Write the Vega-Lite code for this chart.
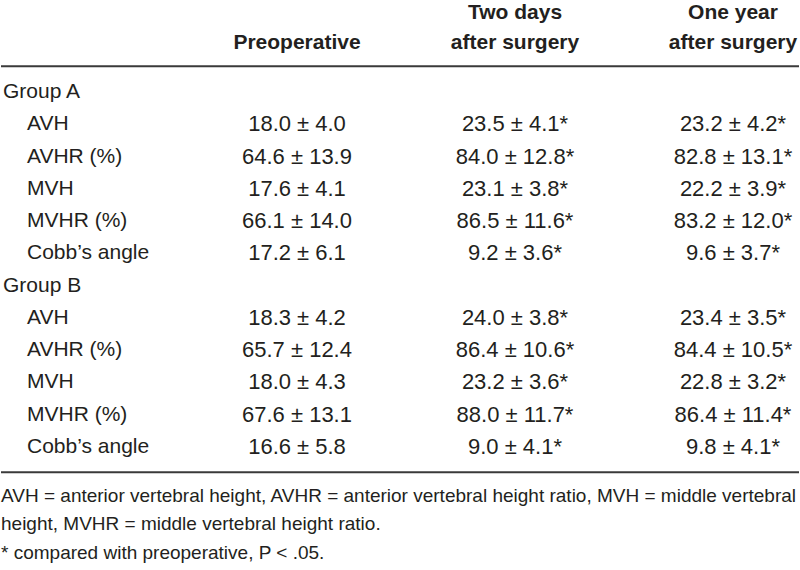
{
  "$schema": "https://vega.github.io/schema/vega-lite/v6.json",
  "width": 800,
  "height": 570,
  "autosize": {"type": "fit", "contains": "padding"},
  "padding": 0,
  "background": "white",
  "config": {"view": {"stroke": null}, "text": {"font": "Liberation Sans, Arial, Helvetica, sans-serif", "color": "#231f20"}},
  "datasets": {
    "rules": [{"line": 0.2}, {"line": 12.78}],
    "table": [
      {"role": "head", "line": -0.52, "col": 1, "text": "Preoperative"},
      {"role": "head", "line": -1.45, "col": 2, "text": "Two days"},
      {"role": "head", "line": -0.52, "col": 2, "text": "after surgery"},
      {"role": "head", "line": -1.45, "col": 3, "text": "One year"},
      {"role": "head", "line": -0.52, "col": 3, "text": "after surgery"},
      {"role": "group", "line": 1, "col": 0, "text": "Group A"},
      {"role": "item", "line": 2, "col": 0, "text": "AVH"},
      {"role": "item", "line": 3, "col": 0, "text": "AVHR (%)"},
      {"role": "item", "line": 4, "col": 0, "text": "MVH"},
      {"role": "item", "line": 5, "col": 0, "text": "MVHR (%)"},
      {"role": "item", "line": 6, "col": 0, "text": "Cobb’s angle"},
      {"role": "group", "line": 7, "col": 0, "text": "Group B"},
      {"role": "item", "line": 8, "col": 0, "text": "AVH"},
      {"role": "item", "line": 9, "col": 0, "text": "AVHR (%)"},
      {"role": "item", "line": 10, "col": 0, "text": "MVH"},
      {"role": "item", "line": 11, "col": 0, "text": "MVHR (%)"},
      {"role": "item", "line": 12, "col": 0, "text": "Cobb’s angle"},
      {"role": "value", "line": 2, "col": 1, "text": "18.0 ± 4.0"},
      {"role": "value", "line": 2, "col": 2, "text": "23.5 ± 4.1*"},
      {"role": "value", "line": 2, "col": 3, "text": "23.2 ± 4.2*"},
      {"role": "value", "line": 3, "col": 1, "text": "64.6 ± 13.9"},
      {"role": "value", "line": 3, "col": 2, "text": "84.0 ± 12.8*"},
      {"role": "value", "line": 3, "col": 3, "text": "82.8 ± 13.1*"},
      {"role": "value", "line": 4, "col": 1, "text": "17.6 ± 4.1"},
      {"role": "value", "line": 4, "col": 2, "text": "23.1 ± 3.8*"},
      {"role": "value", "line": 4, "col": 3, "text": "22.2 ± 3.9*"},
      {"role": "value", "line": 5, "col": 1, "text": "66.1 ± 14.0"},
      {"role": "value", "line": 5, "col": 2, "text": "86.5 ± 11.6*"},
      {"role": "value", "line": 5, "col": 3, "text": "83.2 ± 12.0*"},
      {"role": "value", "line": 6, "col": 1, "text": "17.2 ± 6.1"},
      {"role": "value", "line": 6, "col": 2, "text": "9.2 ± 3.6*"},
      {"role": "value", "line": 6, "col": 3, "text": "9.6 ± 3.7*"},
      {"role": "value", "line": 8, "col": 1, "text": "18.3 ± 4.2"},
      {"role": "value", "line": 8, "col": 2, "text": "24.0 ± 3.8*"},
      {"role": "value", "line": 8, "col": 3, "text": "23.4 ± 3.5*"},
      {"role": "value", "line": 9, "col": 1, "text": "65.7 ± 12.4"},
      {"role": "value", "line": 9, "col": 2, "text": "86.4 ± 10.6*"},
      {"role": "value", "line": 9, "col": 3, "text": "84.4 ± 10.5*"},
      {"role": "value", "line": 10, "col": 1, "text": "18.0 ± 4.3"},
      {"role": "value", "line": 10, "col": 2, "text": "23.2 ± 3.6*"},
      {"role": "value", "line": 10, "col": 3, "text": "22.8 ± 3.2*"},
      {"role": "value", "line": 11, "col": 1, "text": "67.6 ± 13.1"},
      {"role": "value", "line": 11, "col": 2, "text": "88.0 ± 11.7*"},
      {"role": "value", "line": 11, "col": 3, "text": "86.4 ± 11.4*"},
      {"role": "value", "line": 12, "col": 1, "text": "16.6 ± 5.8"},
      {"role": "value", "line": 12, "col": 2, "text": "9.0 ± 4.1*"},
      {"role": "value", "line": 12, "col": 3, "text": "9.8 ± 4.1*"},
      {"role": "foot", "line": 13.52, "col": 0, "text": "AVH = anterior vertebral height, AVHR = anterior vertebral height ratio, MVH = middle vertebral"},
      {"role": "foot", "line": 14.39, "col": 0, "text": "height, MVHR = middle vertebral height ratio."},
      {"role": "foot", "line": 15.29, "col": 0, "text": "* compared with preoperative, P < .05."}
    ]
  },
  "layer": [
    {
      "data": {"name": "rules"},
      "mark": {"type": "rule", "strokeWidth": 2, "color": "#3a3a3a"},
      "encoding": {
        "y": {"field": "line", "type": "quantitative", "axis": null, "scale": {"domain": [1, 12], "range": [92, 447], "nice": false, "zero": false}}
      }
    },
    {
      "data": {"name": "table"},
      "transform": [{"filter": "datum.role === 'head'"}],
      "mark": {"type": "text", "fontWeight": "bold", "fontSize": 21, "align": "center", "baseline": "middle"},
      "encoding": {
        "x": {"field": "col", "type": "quantitative", "axis": null, "scale": {"domain": [0, 3], "range": [78, 732], "nice": false, "zero": false}},
        "y": {"field": "line", "type": "quantitative", "axis": null},
        "text": {"field": "text"}
      }
    },
    {
      "data": {"name": "table"},
      "transform": [{"filter": "datum.role === 'group'"}],
      "mark": {"type": "text", "fontSize": 21, "align": "left", "baseline": "middle", "dx": -76},
      "encoding": {
        "x": {"field": "col", "type": "quantitative", "axis": null},
        "y": {"field": "line", "type": "quantitative", "axis": null},
        "text": {"field": "text"}
      }
    },
    {
      "data": {"name": "table"},
      "transform": [{"filter": "datum.role === 'item'"}],
      "mark": {"type": "text", "fontSize": 21, "align": "left", "baseline": "middle", "dx": -52},
      "encoding": {
        "x": {"field": "col", "type": "quantitative", "axis": null},
        "y": {"field": "line", "type": "quantitative", "axis": null},
        "text": {"field": "text"}
      }
    },
    {
      "data": {"name": "table"},
      "transform": [{"filter": "datum.role === 'value'"}],
      "mark": {"type": "text", "fontSize": 22, "align": "center", "baseline": "middle"},
      "encoding": {
        "x": {"field": "col", "type": "quantitative", "axis": null},
        "y": {"field": "line", "type": "quantitative", "axis": null},
        "text": {"field": "text"}
      }
    },
    {
      "data": {"name": "table"},
      "transform": [{"filter": "datum.role === 'foot'"}],
      "mark": {"type": "text", "fontSize": 19, "align": "left", "baseline": "middle", "dx": -78},
      "encoding": {
        "x": {"field": "col", "type": "quantitative", "axis": null},
        "y": {"field": "line", "type": "quantitative", "axis": null},
        "text": {"field": "text"}
      }
    }
  ]
}
